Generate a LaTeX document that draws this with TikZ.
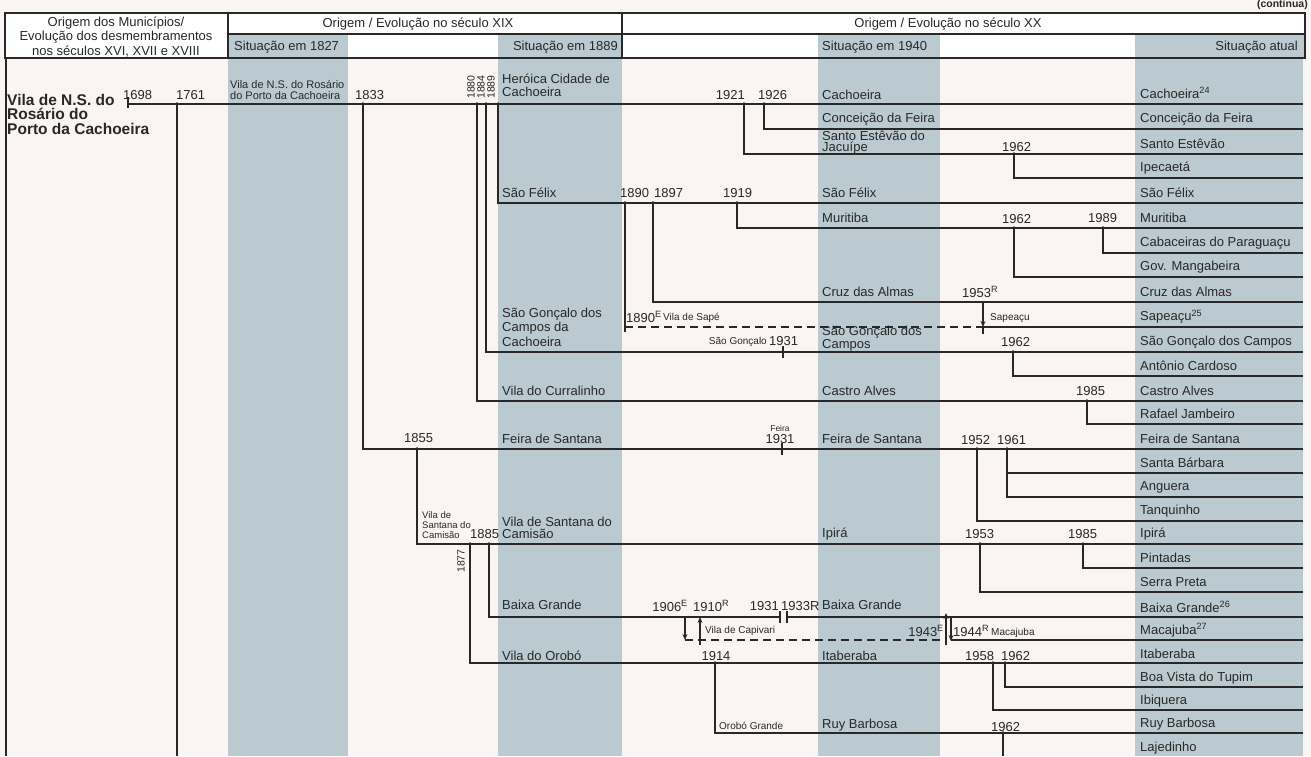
\documentclass[tikz,border=0pt]{standalone}
\usepackage{fontspec}
\setmainfont{Liberation Sans}
\usetikzlibrary{arrows.meta}
\definecolor{band}{RGB}{187,201,208}
\definecolor{paper}{RGB}{250,244,243}
\definecolor{ink}{RGB}{40,40,40}
\begin{document}
\begin{tikzpicture}[x=1pt,y=-1pt,
  tl/.style={draw=ink,line width=1.15pt},
  hl/.style={draw=ink,line width=1.2pt},
  dsh/.style={tl,dash pattern=on 8pt off 5pt},
  arr/.style={tl,-{Stealth[length=6pt,width=5pt]}},
  lb/.style={anchor=west,inner sep=0pt,text=ink,font=\fontsize{13}{13}\selectfont},
  sm/.style={anchor=west,inner sep=0pt,text=ink,font=\fontsize{10}{10}\selectfont},
  hd/.style={inner sep=0pt,text=ink,font=\fontsize{13}{14.5}\selectfont},
  rot/.style={inner sep=0pt,text=ink,rotate=90,font=\fontsize{10.5}{10.5}\selectfont}]
\useasboundingbox (0,0) rectangle (1311,756);
\fill[paper] (0,0) rectangle (1311,756);
% bands
\fill[band] (228,58) rectangle (348,756);
\fill[band] (498,58) rectangle (622,756);
\fill[band] (818,58) rectangle (940,756);
\fill[band] (1135,58) rectangle (1303,756);
% header
\fill[white] (5,13) rectangle (1305,58);
\fill[band] (228,34) rectangle (348,58);
\fill[band] (498,34) rectangle (622,58);
\fill[band] (818,34) rectangle (940,58);
\fill[band] (1135,34) rectangle (1305,58);
\draw[hl] (5,13) rectangle (1305,58);
\draw[hl] (228,13) -- (228,58);
\draw[hl] (622,13) -- (622,58);
\draw[hl] (228,34) -- (1305,34);
\draw[tl] (6,58) -- (6,756);
\node[inner sep=0pt,text=ink,font=\bfseries\fontsize{10.5}{10.5}\selectfont,anchor=east] (cont) at (1308,5) {(continua)};
\node[hd,align=center] (h0) at (116,37) {Origem dos Municípios/\\Evolução dos desmembramentos\\nos séculos XVI, XVII e XVIII};
\node[hd] (h1) at (418,24) {Origem / Evolução no século XIX};
\node[hd] (h2) at (948,24) {Origem / Evolução no século XX};
\node[hd,anchor=west] (h3) at (234,47) {Situação em 1827};
\node[hd,anchor=east] (h4) at (618,47) {Situação em 1889};
\node[hd,anchor=west] (h5) at (822,47) {Situação em 1940};
\node[hd,anchor=east] (h6) at (1298,47) {Situação atual};
% title
\node[anchor=west,inner sep=0pt,text=ink,align=left,font=\bfseries\fontsize{15.5}{14.5}\selectfont] (title) at (7,114) {Vila de N.S. do\\Rosário do\\Porto da Cachoeira};
% row end coordinates
\foreach \n/\y in {0/104,1/129,2/154,3/178,4/203,5/228,6/253,7/277,8/302,9/327,10/352,11/376,12/401,13/424,14/449,15/473,16/497,17/521,18/544,19/568,20/592,21/617,22/640,23/663,24/687,25/710,26/733}
  \coordinate (e\n) at (1303,\y);
% branch points
\coordinate (p1698) at (128,104);
\coordinate (p1761) at (177,104); \coordinate (q1761) at (177,756);
\coordinate (p1833) at (363,104);
\coordinate (p1880) at (477,104);
\coordinate (p1884) at (486,104);
\coordinate (p1889) at (498,104);
\coordinate (p1921) at (744,104);
\coordinate (p1926) at (764,104);
\coordinate (p1962a) at (1014,154);
\coordinate (p1890) at (625,203); \coordinate (q1890) at (625,332);
\coordinate (s1890) at (625,327);
\coordinate (p1897) at (653,203);
\coordinate (p1919) at (737,203);
\coordinate (p1962b) at (1014,228);
\coordinate (p1989) at (1103,228);
\coordinate (p1953r) at (983,302); \coordinate (d1953) at (983,327); \coordinate (q1953r) at (983,334);
\coordinate (p1962c) at (1013,352);
\coordinate (t1931a) at (783,352);
\coordinate (p1985a) at (1087,401);
\coordinate (p1855) at (417,449);
\coordinate (t1931b) at (782,449);
\coordinate (p1952) at (977,449);
\coordinate (p1961) at (1007,449);
\coordinate (p1877) at (470,544);
\coordinate (p1885) at (489,544);
\coordinate (p1953) at (980,544);
\coordinate (p1985b) at (1083,544);
\coordinate (g1) at (780,617); \coordinate (g2) at (787,617);
\coordinate (a1906t) at (685,617); \coordinate (a1906b) at (685,640);
\coordinate (a1910b) at (700,645); \coordinate (a1910t) at (700,617);
\coordinate (m1943) at (946,640);
\coordinate (a1943b) at (946,645); \coordinate (a1943t) at (946,613);
\coordinate (a1944t) at (951,617); \coordinate (a1944b) at (951,641);
\coordinate (m1944) at (951,640);
\coordinate (p1914) at (715,663);
\coordinate (p1958) at (993,663);
\coordinate (p1962d) at (1005,663);
\coordinate (p1962e) at (1003,733); \coordinate (q1962e) at (1003,756);
% connectors
\draw[tl] (p1698) -- (e0);
\draw[tl] ([yshift=7pt]p1698) -- ([yshift=-4pt]p1698);
\draw[tl] (p1761) -- (q1761);
\draw[tl] (p1833) |- (e14);
\draw[tl] (p1880) |- (e12);
\draw[tl] (p1884) |- (e10);
\draw[tl] (p1889) |- (e4);
\draw[tl] (p1921) |- (e2);
\draw[tl] (p1926) |- (e1);
\draw[tl] (p1962a) |- (e3);
\draw[tl] (p1890) -- (q1890);
\draw[tl] (p1897) |- (e8);
\draw[tl] (p1919) |- (e5);
\draw[tl] (p1962b) |- (e7);
\draw[tl] (p1989) |- (e6);
\draw[dsh] (s1890) -- (d1953);
\draw[arr] (p1953r) -- (d1953);
\draw[tl] (d1953) -- (q1953r);
\draw[tl] (d1953) -- (e9);
\draw[tl] (p1962c) |- (e11);
\draw[tl] ([yshift=6pt]t1931a) -- ([yshift=-6pt]t1931a);
\draw[tl] (p1985a) |- (e13);
\draw[tl] (p1855) |- (e18);
\draw[tl] ([yshift=6pt]t1931b) -- ([yshift=-6pt]t1931b);
\draw[tl] (p1952) |- (e17);
\draw[tl] (p1961) |- (e16);
\draw[tl] (p1961 |- e15) -- (e15);
\draw[tl] (p1877) |- (e23);
\draw[tl] (p1885) |- (g1);
\draw[tl] (g2) -- (e21);
\draw[tl] ([yshift=6pt]g1) -- ([yshift=-6pt]g1);
\draw[tl] ([yshift=6pt]g2) -- ([yshift=-6pt]g2);
\draw[tl] (p1953) |- (e20);
\draw[tl] (p1985b) |- (e19);
\draw[arr] (a1906t) -- (a1906b);
\draw[arr] (a1910b) -- (a1910t);
\draw[dsh] (a1906b) -- (m1943);
\draw[arr] (a1943b) -- (a1943t);
\draw[arr] (a1944t) -- (a1944b);
\draw[tl] (m1944) -- (e22);
\draw[tl] (p1914) |- (e26);
\draw[tl] (p1958) |- (e25);
\draw[tl] (p1962d) |- (e24);
\draw[tl] (p1962e) -- (q1962e);
\foreach \p in {p1761,p1833,p1880,p1884,p1889,p1921,p1926,p1962a,p1890,p1897,p1919,p1962b,p1989,p1962c,p1985a,p1855,p1952,p1961,p1877,p1885,p1953,p1985b,p1914,p1958,p1962d,p1962e}
  \fill[ink] (\p) circle[radius=1.9pt];
% row 0
\node[lb] (y1698) at (123,95) {1698};
\node[lb] (y1761) at (176,95) {1761};
\node[sm,align=left,font=\fontsize{11}{11.5}\selectfont] (vnsr) at (230,90) {Vila de N.S. do Rosário\\do Porto da Cachoeira};
\node[lb] (y1833) at (355,95) {1833};
\node[rot] (y1880) at (471,87) {1880};
\node[rot] (y1884) at (481,87) {1884};
\node[rot] (y1889) at (491,87) {1889};
\node[lb,align=left,font=\fontsize{13}{13}\selectfont] (hcc) at (502,85) {Heróica Cidade de\\Cachoeira};
\node[lb,anchor=east] (y1921) at (745,95) {1921};
\node[lb] (y1926) at (758,95) {1926};
\node[lb] (c40a) at (822,95) {Cachoeira};
% row 1-3
\node[lb] (c40b) at (822,119) {Conceição da Feira};
\node[lb,align=left,font=\fontsize{13}{11}\selectfont] (c40c) at (822,143) {Santo Estêvão do\\Jacuípe};
\node[lb] (y1962a) at (1002,147) {1962};
% row 4-9
\node[lb] (sf89) at (502,193) {São Félix};
\node[lb] (y1890) at (620,193) {1890};
\node[lb] (y1897) at (654,193) {1897};
\node[lb] (y1919) at (723,193) {1919};
\node[lb] (sf40) at (822,193) {São Félix};
\node[lb] (mu40) at (822,218) {Muritiba};
\node[lb] (y1962b) at (1002,219) {1962};
\node[lb] (y1989) at (1088,218) {1989};
\node[lb] (ca40) at (822,292) {Cruz das Almas};
\node[lb] (y1953r) at (962,292) {1953\textsuperscript{R}};
\node[lb] (y1890e) at (626,317) {1890\textsuperscript{E}};
\node[sm] (sape) at (663,318) {Vila de Sapé};
\node[sm] (sapq) at (990,318) {Sapeaçu};
% row 10-13
\node[lb,align=left,font=\fontsize{13}{14.5}\selectfont] (sg89) at (502,327) {São Gonçalo dos\\Campos da\\Cachoeira};
\node[sm,anchor=east] (sgs) at (767,342) {São Gonçalo};
\node[lb] (y1931a) at (769,341) {1931};
\node[lb,align=left,font=\fontsize{13}{10}\selectfont] (sg40) at (822,339) {São Gonçalo dos\\Campos};
\node[lb] (y1962c) at (1001,342) {1962};
\node[lb] (vc89) at (502,391) {Vila do Curralinho};
\node[lb] (cv40) at (822,391) {Castro Alves};
\node[lb] (y1985a) at (1076,391) {1985};
% row 14-17
\node[lb] (y1855) at (404,438) {1855};
\node[lb] (fs89) at (502,439) {Feira de Santana};
\node[sm,anchor=center,font=\fontsize{8.5}{8.5}\selectfont] (fei) at (780,428) {Feira};
\node[lb,anchor=center] (y1931b) at (780,439) {1931};
\node[lb] (fs40) at (822,439) {Feira de Santana};
\node[lb] (y1952) at (961,440) {1952};
\node[lb] (y1961) at (997,440) {1961};
% row 18-20
\node[sm,align=left,font=\fontsize{9.5}{10}\selectfont] (vsc) at (422,525) {Vila de\\Santana do\\Camisão};
\node[lb] (y1885) at (470,534) {1885};
\node[lb,align=left,font=\fontsize{13}{12.5}\selectfont] (vs89) at (502,528) {Vila de Santana do\\Camisão};
\node[rot] (y1877) at (461,561) {1877};
\node[lb] (ip40) at (822,534) {Ipirá};
\node[lb] (y1953) at (965,534) {1953};
\node[lb] (y1985b) at (1068,534) {1985};
% row 21-22
\node[lb] (bg89) at (502,605) {Baixa Grande};
\node[lb,anchor=east] (y1906) at (688,606) {1906\textsuperscript{E}};
\node[lb] (y1910) at (693,606) {1910\textsuperscript{R}};
\node[lb,anchor=east] (y1931c) at (779,606) {1931};
\node[lb] (y1933) at (781,606) {1933R};
\node[lb] (bg40) at (822,605) {Baixa Grande};
\node[sm] (capi) at (705,631) {Vila de Capivari};
\node[lb,anchor=east] (y1943) at (944,631) {1943\textsuperscript{E}};
\node[lb] (y1944) at (953,631) {1944\textsuperscript{R}};
\node[sm] (maca) at (991,633) {Macajuba};
% row 23-26
\node[lb] (vo89) at (502,656) {Vila do Orobó};
\node[lb,anchor=center] (y1914) at (716,656) {1914};
\node[lb] (it40) at (822,656) {Itaberaba};
\node[lb] (y1958) at (965,656) {1958};
\node[lb] (y1962d) at (1001,656) {1962};
\node[sm] (orog) at (719,726) {Orobó Grande};
\node[lb] (rb40) at (822,725) {Ruy Barbosa};
\node[lb] (y1962e) at (991,727) {1962};
% last column
\foreach \t/\y [count=\i] in {Cachoeira\textsuperscript{24}/93,Conceição da Feira/119,Santo Estêvão/144,Ipecaetá/168,São Félix/193,Muritiba/218,Cabaceiras do Paraguaçu/243,Gov. Mangabeira/267,Cruz das Almas/292,Sapeaçu\textsuperscript{25}/317,São Gonçalo dos Campos/342,Antônio Cardoso/366,Castro Alves/391,Rafael Jambeiro/414,Feira de Santana/439,Santa Bárbara/463,Anguera/487,Tanquinho/511,Ipirá/534,Pintadas/558,Serra Preta/582,Baixa Grande\textsuperscript{26}/607,Macajuba\textsuperscript{27}/630,Itaberaba/654,Boa Vista do Tupim/678,Ibiquera/701,Ruy Barbosa/724,Lajedinho/748}
  \node[lb] (at\i) at (1140,\y) {\t};
\end{tikzpicture}
\end{document}
